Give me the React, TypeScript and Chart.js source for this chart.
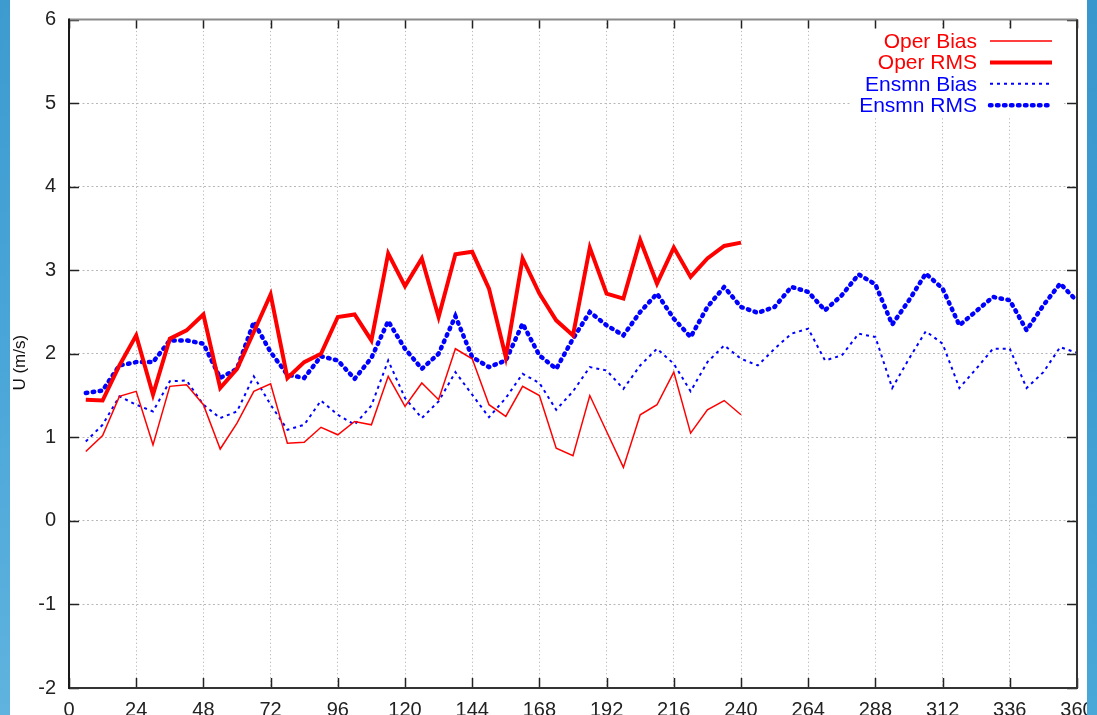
import React, { useEffect, useRef } from "react";
import { Chart, registerables } from "chart.js";

Chart.register(...registerables);

// ---- data (forecast hour vs U error, m/s) ----
const hoursOper = [
  6, 12, 18, 24, 30, 36, 42, 48, 54, 60, 66, 72, 78, 84, 90, 96, 102, 108, 114, 120,
  126, 132, 138, 144, 150, 156, 162, 168, 174, 180, 186, 192, 198, 204, 210, 216, 222, 228, 234, 240,
];
const hoursEnsmn = [
  6, 12, 18, 24, 30, 36, 42, 48, 54, 60, 66, 72, 78, 84, 90, 96, 102, 108, 114, 120,
  126, 132, 138, 144, 150, 156, 162, 168, 174, 180, 186, 192, 198, 204, 210, 216, 222, 228, 234, 240,
  246, 252, 258, 264, 270, 276, 282, 288, 294, 300, 306, 312, 318, 324, 330, 336, 342, 348, 354, 360,
];
const operBias = [
  0.83, 1.02, 1.49, 1.55, 0.91, 1.61, 1.63, 1.39, 0.86, 1.17, 1.55, 1.64, 0.93, 0.94, 1.12, 1.03, 1.19, 1.15, 1.73, 1.37,
  1.65, 1.45, 2.06, 1.94, 1.39, 1.25, 1.61, 1.5, 0.87, 0.78, 1.5, 1.07, 0.64, 1.27, 1.39, 1.78, 1.05, 1.33, 1.44, 1.27,
];
const operRms = [
  1.45, 1.44, 1.86, 2.22, 1.51, 2.18, 2.28, 2.47, 1.59, 1.82, 2.26, 2.71, 1.71, 1.9, 2.0, 2.44, 2.47, 2.16, 3.2, 2.81,
  3.14, 2.44, 3.19, 3.22, 2.78, 1.96, 3.14, 2.72, 2.4, 2.22, 3.27, 2.72, 2.66, 3.36, 2.84, 3.27, 2.92, 3.14, 3.29, 3.33,
];
const ensmnBias = [
  0.95, 1.15, 1.49, 1.39, 1.31, 1.67, 1.68, 1.39, 1.23, 1.31, 1.73, 1.39, 1.09, 1.15, 1.44, 1.27, 1.15, 1.38, 1.92, 1.47,
  1.23, 1.43, 1.78, 1.51, 1.24, 1.47, 1.76, 1.65, 1.33, 1.55, 1.84, 1.8, 1.58, 1.86, 2.06, 1.88, 1.55, 1.9, 2.1, 1.94,
  1.86, 2.06, 2.24, 2.3, 1.92, 1.98, 2.24, 2.2, 1.59, 1.94, 2.27, 2.12, 1.59, 1.82, 2.06, 2.06, 1.59, 1.78, 2.08, 2.01,
];
const ensmnRms = [
  1.53, 1.56, 1.86, 1.9, 1.9, 2.16, 2.16, 2.12, 1.71, 1.82, 2.38, 2.02, 1.75, 1.71, 1.97, 1.92, 1.7, 1.95, 2.39, 2.06,
  1.82, 2.0, 2.45, 1.96, 1.84, 1.92, 2.36, 1.98, 1.82, 2.18, 2.5, 2.34, 2.22, 2.5, 2.72, 2.42, 2.2, 2.56, 2.8, 2.56,
  2.49, 2.56, 2.8, 2.74, 2.52, 2.7, 2.95, 2.83, 2.35, 2.64, 2.96, 2.78, 2.34, 2.51, 2.68, 2.64, 2.28, 2.58, 2.84, 2.63,
];
const xTicks = [0, 24, 48, 72, 96, 120, 144, 168, 192, 216, 240, 264, 288, 312, 336, 360];
const yTicks = [-2, -1, 0, 1, 2, 3, 4, 5, 6];
const seriesLabels = ["Oper Bias", "Oper RMS", "Ensmn Bias", "Ensmn RMS"];
const yTitle = "U (m/s)";

const FONT = "'Liberation Sans', Arial, Helvetica, sans-serif";
const RED = "#ff0000";
const BLUE = "#0000ff";

const pts = (xs: number[], ys: number[]) => xs.map((x, i) => ({ x, y: ys[i] }));

const legendPlugin = {
  id: "gnuLegend",
  afterDatasetsDraw(chart: any) {
    const { ctx } = chart;
    ctx.save();
    ctx.fillStyle = "#ffffff";
    ctx.fillRect(852, 29, 212, 87);
    ctx.font = `21px ${FONT}`;
    ctx.textAlign = "right";
    ctx.textBaseline = "middle";
    chart.data.datasets.forEach((ds: any, i: number) => {
      const y = 41 + i * 21.4;
      ctx.fillStyle = ds.borderColor;
      ctx.fillText(ds.label, 977, y + 1);
      ctx.beginPath();
      ctx.strokeStyle = ds.borderColor;
      ctx.lineWidth = ds.borderWidth;
      ctx.lineCap = ds.borderCapStyle || "butt";
      ctx.setLineDash(ds.borderDash || []);
      ctx.moveTo(990, y);
      ctx.lineTo(1052, y);
      ctx.stroke();
    });
    ctx.restore();
  },
};

const framePlugin = {
  id: "gnuFrame",
  afterDraw(chart: any) {
    const { ctx, chartArea: a, scales } = chart;
    ctx.save();
    ctx.setLineDash([]);
    ctx.lineCap = "butt";
    // inward major ticks
    ctx.strokeStyle = "#222";
    ctx.lineWidth = 1.5;
    ctx.beginPath();
    xTicks.forEach((v) => {
      const px = Math.round(scales.x.getPixelForValue(v)) + 0.5;
      ctx.moveTo(px, a.bottom);
      ctx.lineTo(px, a.bottom - 10);
      ctx.moveTo(px, a.top);
      ctx.lineTo(px, a.top + 9);
    });
    yTicks.forEach((v) => {
      const py = Math.round(scales.y.getPixelForValue(v)) + 0.5;
      ctx.moveTo(a.left, py);
      ctx.lineTo(a.left + 10, py);
      ctx.moveTo(a.right, py);
      ctx.lineTo(a.right - 10, py);
    });
    ctx.stroke();
    // border
    ctx.lineWidth = 2;
    ctx.strokeStyle = "#8a8a8a";
    ctx.beginPath();
    ctx.moveTo(a.left, a.top);
    ctx.lineTo(a.right, a.top);
    ctx.stroke();
    ctx.strokeStyle = "#333";
    ctx.beginPath();
    ctx.moveTo(a.right, a.top);
    ctx.lineTo(a.right, a.bottom);
    ctx.lineTo(a.left, a.bottom);
    ctx.stroke();
    ctx.strokeStyle = "#1a1a1a";
    ctx.beginPath();
    ctx.moveTo(a.left, a.top - 1);
    ctx.lineTo(a.left, a.bottom + 1);
    ctx.stroke();
    // y axis title
    ctx.translate(20, (a.top + a.bottom) / 2 + 9);
    ctx.rotate(-Math.PI / 2);
    ctx.fillStyle = "#111";
    ctx.font = `17px ${FONT}`;
    ctx.textAlign = "center";
    ctx.textBaseline = "middle";
    ctx.fillText(yTitle, 0, 0);
    ctx.restore();
  },
};

export default function App() {
  const ref = useRef<HTMLCanvasElement | null>(null);

  useEffect(() => {
    if (!ref.current) return;
    const chart = new Chart(ref.current, {
      type: "line",
      data: {
        datasets: [
          {
            label: seriesLabels[0],
            data: pts(hoursOper, operBias),
            borderColor: RED,
            borderWidth: 1.5,
            pointRadius: 0,
            tension: 0,
          },
          {
            label: seriesLabels[1],
            data: pts(hoursOper, operRms),
            borderColor: RED,
            borderWidth: 4,
            pointRadius: 0,
            tension: 0,
          },
          {
            label: seriesLabels[2],
            data: pts(hoursEnsmn, ensmnBias),
            borderColor: BLUE,
            borderWidth: 2,
            borderDash: [3, 4],
            pointRadius: 0,
            tension: 0,
          },
          {
            label: seriesLabels[3],
            data: pts(hoursEnsmn, ensmnRms),
            borderColor: BLUE,
            borderWidth: 4.5,
            borderDash: [1.5, 5.5],
            borderCapStyle: "round",
            pointRadius: 0,
            tension: 0,
          },
        ],
      },
      options: {
        responsive: false,
        animation: false,
        layout: { padding: { top: 19.5, right: 20, left: 0, bottom: 0 } },
        plugins: { legend: { display: false }, tooltip: { enabled: false }, title: { display: false } },
        scales: {
          x: {
            type: "linear",
            min: 0,
            max: 360,
            afterBuildTicks: (s: any) => {
              s.ticks = xTicks.map((v) => ({ value: v }));
            },
            afterFit: (s: any) => {
              s.height = 42;
              s.paddingLeft = 0;
              s.paddingRight = 0;
            },
            ticks: {
              autoSkip: false,
              maxRotation: 0,
              padding: 10,
              color: "#222",
              font: { family: FONT, size: 20 },
            },
            grid: { color: "#b8b8b8", lineWidth: 1, drawTicks: false },
            border: { display: false, dash: [1.2, 2.6] },
          },
          y: {
            type: "linear",
            min: -2,
            max: 6,
            afterBuildTicks: (s: any) => {
              s.ticks = yTicks.map((v) => ({ value: v }));
            },
            afterFit: (s: any) => {
              s.width = 69;
              s.paddingTop = 0;
              s.paddingBottom = 0;
            },
            ticks: {
              padding: 13,
              color: "#222",
              font: { family: FONT, size: 20 },
            },
            grid: { color: "#b8b8b8", lineWidth: 1, drawTicks: false },
            border: { display: false, dash: [2, 2.5] },
          },
        },
      },
      plugins: [legendPlugin, framePlugin],
    } as any);
    return () => chart.destroy();
  }, []);

  return (
    <div
      style={{
        position: "fixed",
        left: 0,
        top: 0,
        width: 1097,
        height: 715,
        overflow: "hidden",
        background: "#ffffff",
      }}
    >
      <canvas ref={ref} width={1097} height={730} style={{ display: "block", width: 1097, height: 730 }} />
      <div
        style={{
          position: "absolute",
          left: 0,
          top: 0,
          width: 10,
          height: 715,
          background: "linear-gradient(180deg, #3d9bd0 0%, #4aa6d8 50%, #5fb3de 100%)",
        }}
      />
      <div
        style={{
          position: "absolute",
          right: 0,
          top: 0,
          width: 10,
          height: 715,
          background: "linear-gradient(180deg, #3a97cd 0%, #3d9dd2 50%, #4aa8d8 100%)",
        }}
      />
    </div>
  );
}
